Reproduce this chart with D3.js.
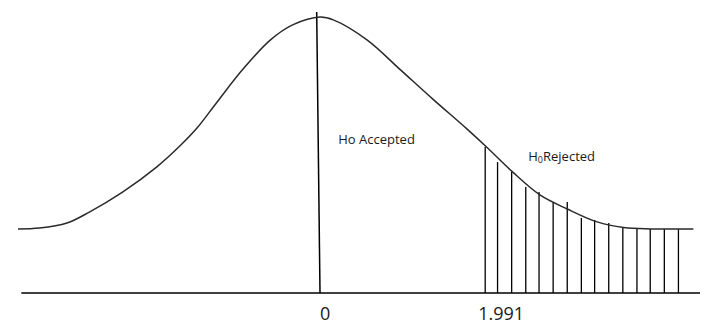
<!DOCTYPE html>
<html>
<head>
<meta charset="utf-8">
<script src="https://cdn.jsdelivr.net/npm/d3@7"></script>
<style>
  body { margin: 0; background: #fff; }
  svg { display: block; }
  text { font-family: "Open Sans", Lato, sans-serif; fill: #1a1a1a; }
</style>
</head>
<body>
<svg id="chart" width="704" height="324"></svg>
<script>
// curve: t value and height (0..100)
const curveT = [-3.64, -3.38, -3.05, -2.78, -2.38, -1.97, -1.69, -1.48, -1.24, -0.93, -0.60, -0.33, 0,
  0.16, 0.57, 0.97, 1.36, 1.77, 2.02, 2.32, 2.65, 2.98, 3.34, 3.66, 3.98, 4.50];
const curveH = [22.8, 23.1, 24.9, 28.8, 35.9, 44.8, 52.3, 58.8, 68.0, 79.6, 90.0, 95.4, 98.2,
  97.2, 90.0, 79.4, 69.0, 58.4, 51.6, 43.1, 34.9, 29.9, 25.3, 23.3, 22.8, 22.8];

// hatch lines in the rejection region
const hatchT = [1.991, 2.14, 2.31, 2.48, 2.64, 2.81, 2.98, 3.15, 3.31, 3.48, 3.65, 3.82, 3.98, 4.15, 4.32];
const hatchH = [52.0, 46.6, 43.1, 37.7, 35.9, 32.4, 32.4, 26.7, 26.0, 24.9, 23.1, 23.1, 22.8, 22.8, 22.8];

const tickValues = [0, 1.991];
const tickLabels = ['0', '1.991'];
const regionLabels = ['Ho Accepted', 'H', '0', 'Rejected'];

const svg = d3.select('#chart');
const x = d3.scaleLinear().domain([-3.64, 4.58]).range([18, 700]);
const y = d3.scaleLinear().domain([0, 100]).range([293, 12]);

const curve = curveT.map((t, i) => ({ t, h: curveH[i] }));

// baseline
svg.append('line')
  .attr('x1', x(-3.6)).attr('x2', x(4.58))
  .attr('y1', y(0)).attr('y2', y(0))
  .attr('stroke', '#000').attr('stroke-width', 1.6);

// hatch
svg.selectAll('.hatch')
  .data(hatchT.map((t, i) => ({ t, h: hatchH[i] })))
  .join('line').attr('class', 'hatch')
  .attr('x1', d => x(d.t)).attr('x2', d => x(d.t))
  .attr('y1', y(0)).attr('y2', d => y(d.h))
  .attr('stroke', '#000').attr('stroke-width', 1.3);

// vertical line at 0 (slightly slanted, like the drawing)
svg.append('line')
  .attr('x1', x(-0.04)).attr('x2', x(0))
  .attr('y1', y(100)).attr('y2', y(0))
  .attr('stroke', '#000').attr('stroke-width', 1.5);

const line = d3.line()
  .x(d => x(d.t))
  .y(d => y(d.h))
  .curve(d3.curveCatmullRom);

svg.append('path')
  .datum(curve)
  .attr('d', line)
  .attr('fill', 'none')
  .attr('stroke', '#2a2a2a')
  .attr('stroke-width', 1.5);

// tick labels
svg.selectAll('.tick-label')
  .data(tickValues)
  .join('text').attr('class', 'tick-label')
  .attr('x', (d, i) => x(d) + (i ? -7 : 0))
  .attr('y', y(0) + 27)
  .attr('font-size', 18)
  .text((d, i) => tickLabels[i]);

// region labels
svg.append('text')
  .attr('x', x(0.22)).attr('y', y(53))
  .attr('font-size', 13)
  .text(regionLabels[0]);

const rej = svg.append('text')
  .attr('x', x(2.51)).attr('y', y(47))
  .attr('font-size', 13);
rej.append('tspan').text(regionLabels[1]);
rej.append('tspan').attr('font-size', 9).attr('dy', 2).text(regionLabels[2]);
rej.append('tspan').attr('dy', -2).text(regionLabels[3]);
</script>
</body>
</html>
